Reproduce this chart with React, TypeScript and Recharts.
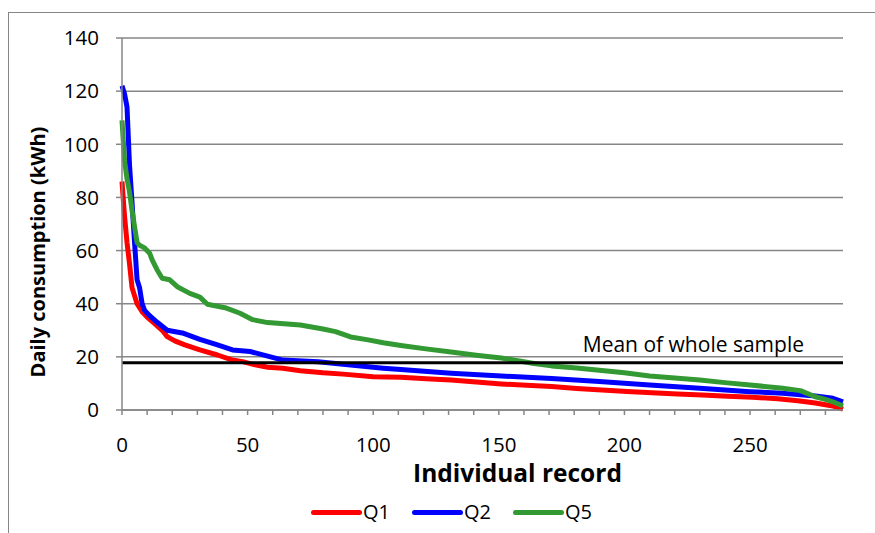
import React from "react";
import {
  LineChart,
  Line,
  XAxis,
  YAxis,
  CartesianGrid,
  Legend,
  ReferenceLine,
} from "recharts";

// sorted daily consumption per record
const q1Record = [0, 1, 2, 3, 4, 6, 8, 10, 13, 16, 18, 21, 25, 31, 38, 44, 48, 53, 58, 64, 71, 80, 88, 100, 111, 121, 131, 141, 151, 161, 171, 181, 191, 201, 211, 221, 231, 241, 251, 261, 269, 276, 280, 283, 285, 287];
const q1Value = [86, 73, 63, 55, 46, 40, 37, 35, 32.5, 30, 27.6, 26, 24.5, 22.6, 20.7, 18.8, 18.2, 17, 16.1, 15.7, 14.8, 14, 13.5, 12.5, 12.3, 11.8, 11.3, 10.5, 9.8, 9.3, 8.8, 8.1, 7.5, 7, 6.5, 6, 5.6, 5.2, 4.8, 4.2, 3.5, 2.6, 2, 1.5, 1, 0.3];

const q2Record = [0, 1, 2, 3, 4, 5, 6, 7, 8, 9, 11, 14, 18, 24, 31, 38, 44, 51, 58, 64, 78, 91, 104, 111, 131, 151, 171, 190, 210, 230, 250, 263, 276, 283, 287];
const q2Value = [122, 119, 114, 92, 78, 63, 49, 46, 40, 37.5, 35.5, 33, 30, 29, 26.6, 24.5, 22.6, 22, 20.3, 18.8, 18.2, 16.9, 15.7, 15.2, 13.8, 12.8, 11.9, 10.7, 9.4, 8.2, 6.9, 6.3, 5.3, 4.4, 3.1];

const q5Record = [0, 1, 2, 3, 4, 5, 6, 7, 9, 11, 12, 14, 16, 19, 22, 27, 31, 34, 41, 47, 52, 58, 71, 80, 85, 91, 98, 104, 111, 121, 131, 141, 151, 157, 164, 171, 181, 190, 200, 210, 220, 230, 240, 250, 263, 270, 276, 280, 283, 287];
const q5Value = [109, 94, 87, 82, 75, 69, 63, 62, 61, 59, 56.5, 52.7, 49.6, 49, 46.4, 43.9, 42.5, 39.8, 38.5, 36.4, 34, 32.9, 32, 30.5, 29.5, 27.5, 26.4, 25.3, 24.3, 23, 21.8, 20.6, 19.6, 18.6, 17.5, 16.6, 15.8, 15, 14, 12.8, 12, 11.3, 10.3, 9.4, 8.2, 7.3, 5, 4, 3.1, 1.5];

const meanOfSample = 17.8;

const xTicks = [0, 10, 20, 30, 40, 50, 60, 70, 80, 90, 100, 110, 120, 130, 140, 150, 160, 170, 180, 190, 200, 210, 220, 230, 240, 250, 260, 270, 280];
const yTicks = [0, 20, 40, 60, 80, 100, 120, 140];

const series = [
  { name: "Q1", color: "#ff0000", records: q1Record, values: q1Value },
  { name: "Q2", color: "#0000ff", records: q2Record, values: q2Value },
  { name: "Q5", color: "#339933", records: q5Record, values: q5Value },
];

const FONT = "'Open Sans', 'Noto Sans', sans-serif";
const GRID = "#868686";

const toPoints = (records: number[], values: number[]) =>
  records.map((r, i) => ({ record: r, kwh: values[i] }));

function LegendBox() {
  return (
    <div style={{ display: "flex", paddingLeft: 311, fontFamily: FONT, fontSize: 20, color: "#000" }}>
      {series.map((s) => (
        <div key={s.name} style={{ display: "flex", alignItems: "center", width: 101, height: 26 }}>
          <span
            style={{
              display: "inline-block",
              width: 51,
              height: 5,
              borderRadius: 3,
              background: s.color,
            }}
          />
          <span style={{ marginLeft: 1, lineHeight: "26px" }}>{s.name}</span>
        </div>
      ))}
    </div>
  );
}

export default function App() {
  return (
    <div style={{ position: "absolute", left: 0, top: 0, width: 875, height: 533, overflow: "hidden", background: "#fff" }}>
      <div
        style={{
          position: "absolute",
          left: 8,
          top: 12,
          width: 900,
          height: 560,
          border: `1px solid ${GRID}`,
        }}
      />
      <LineChart
        width={875}
        height={533}
        margin={{ top: 38, right: 32, left: 0, bottom: 60 }}
        style={{ position: "absolute", left: 0, top: 0, fontFamily: FONT }}
      >
        <CartesianGrid vertical={false} stroke={GRID} strokeWidth={1.5} />
        <XAxis
          type="number"
          dataKey="record"
          domain={[0, 287]}
          ticks={xTicks}
          allowDuplicatedCategory={false}
          tickFormatter={(v: number) => (v % 50 === 0 ? String(v) : "")}
          height={63}
          stroke={GRID}
          strokeWidth={1.5}
          tickSize={5}
          tickMargin={22}
          tick={{ fill: "#000", fontSize: 20.5, fontFamily: FONT }}
          label={{
            content: ({ viewBox }: any) => (
              <text
                x={viewBox.x + viewBox.width / 2 + 35}
                y={viewBox.y + 72}
                textAnchor="middle"
                fontSize={24.5}
                fontWeight="bold"
                fontFamily={FONT}
                fill="#000"
              >
                Individual record
              </text>
            ),
          }}
        />
        <YAxis
          domain={[0, 140]}
          ticks={yTicks}
          width={122}
          stroke={GRID}
          strokeWidth={1.5}
          tickSize={6}
          tickMargin={17}
          tick={{ fill: "#000", fontSize: 20.5, fontFamily: FONT }}
          label={{
            content: ({ viewBox }: any) => {
              const cx = 37;
              const cy = viewBox.y + viewBox.height / 2 + 28;
              return (
                <text
                  x={cx}
                  y={cy}
                  transform={`rotate(-90, ${cx}, ${cy})`}
                  textAnchor="middle"
                  dominantBaseline="central"
                  fontSize={20}
                  fontWeight="bold"
                  fontFamily={FONT}
                  fill="#000"
                >
                  Daily consumption (kWh)
                </text>
              );
            },
          }}
        />
        <Legend
          layout="horizontal"
          verticalAlign="middle"
          align="center"
          wrapperStyle={{ top: 499, left: 0, width: 875 }}
          content={() => <LegendBox />}
        />
        {series.map((s) => (
          <Line
            key={s.name}
            name={s.name}
            data={toPoints(s.records, s.values)}
            dataKey="kwh"
            type="linear"
            stroke={s.color}
            strokeWidth={5}
            strokeLinejoin="round"
            dot={false}
            activeDot={false}
            isAnimationActive={false}
          />
        ))}
        <ReferenceLine
          y={meanOfSample}
          stroke="#000"
          strokeWidth={3}
          label={{
            content: ({ viewBox }: any) => (
              <text
                x={viewBox.x + viewBox.width - 39}
                y={viewBox.y - 11}
                textAnchor="end"
                fontSize={21}
                fontFamily={FONT}
                fill="#000"
              >
                Mean of whole sample
              </text>
            ),
          }}
        />
      </LineChart>
    </div>
  );
}
